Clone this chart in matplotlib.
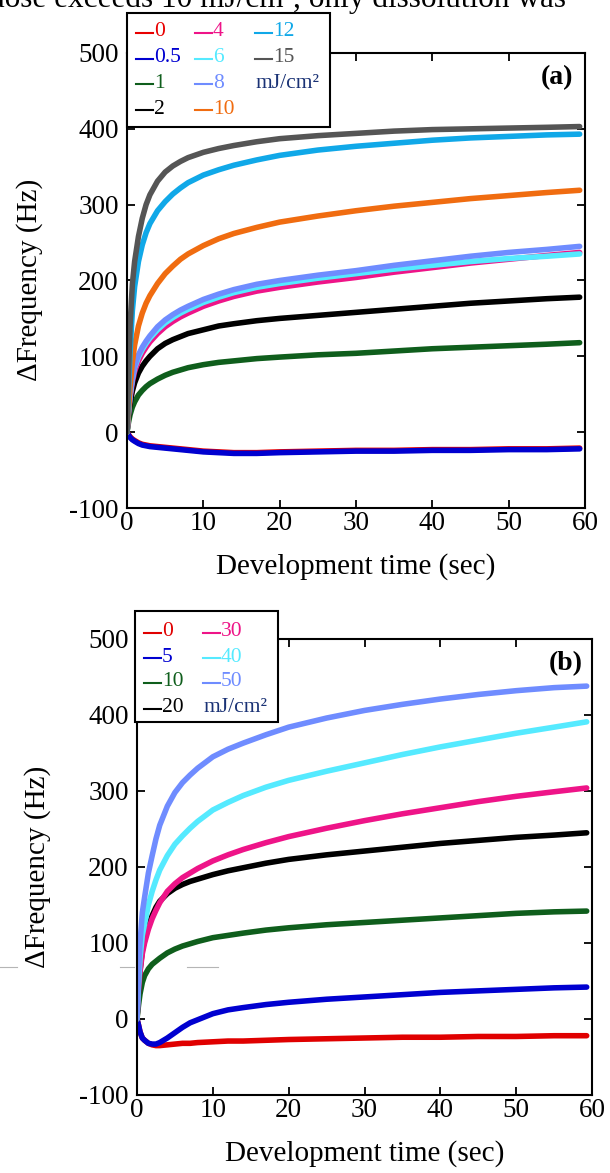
import matplotlib
matplotlib.use("Agg")
import matplotlib.pyplot as plt
from matplotlib.patches import Rectangle
from matplotlib.lines import Line2D

plt.rcParams['font.family'] = ['Liberation Serif', 'DejaVu Serif']
plt.rcParams['axes.unicode_minus'] = False

# ---------------- data ----------------
time_s = [0, 0.2, 0.4, 0.7, 1, 1.5, 2, 2.5, 3, 4, 5, 6, 7, 8, 10, 12, 14, 17, 20,
          25, 30, 35, 40, 45, 50, 55, 59.3]

# (a) exposure dose (mJ/cm2) -> frequency shift (Hz)
a_dose_labels = ["0", "0.5", "1", "2", "4", "6", "8", "10", "12", "15"]
a_0   = [0, -3, -6, -9, -11, -14, -16, -17, -18, -19, -20, -21, -22, -23, -25, -26, -27, -27, -26,
         -25, -24, -24, -23, -23, -22, -22, -21]
a_05  = [0, -4, -7, -10, -12, -15, -17, -18, -19, -20, -21, -22, -23, -24, -26, -27, -28, -28, -27,
         -26, -25, -25, -24, -24, -23, -23, -22]
a_1   = [0, 13, 23, 33, 40, 49, 55, 60, 64, 70, 75, 79, 82, 85, 89, 92, 94, 97, 99,
         102, 104, 107, 110, 112, 114, 116, 118]
a_2   = [0, 22, 38, 54, 65, 78, 87, 94, 100, 110, 117, 122, 126, 130, 135, 140, 143, 147, 150,
         154, 158, 162, 166, 170, 173, 176, 178]
a_4   = [0, 25, 45, 66, 80, 94, 104, 112, 119, 130, 139, 146, 152, 157, 166, 173, 179, 186, 191,
         198, 204, 211, 217, 223, 228, 233, 237]
a_6   = [0, 27, 48, 70, 85, 99, 109, 117, 124, 135, 144, 151, 157, 162, 171, 178, 184, 191, 196,
         203, 209, 215, 220, 225, 229, 232, 235]
a_8   = [0, 28, 50, 72, 87, 102, 112, 120, 127, 139, 148, 155, 161, 166, 175, 182, 188, 195, 200,
         207, 213, 220, 226, 232, 237, 241, 245]
a_10  = [0, 30, 60, 92, 115, 140, 157, 170, 180, 196, 209, 219, 228, 235, 246, 255, 262, 270, 277,
         285, 292, 298, 303, 308, 312, 316, 319]
a_12  = [0, 55, 105, 160, 192, 225, 247, 263, 275, 292, 304, 314, 322, 329, 339, 346, 352, 359, 365,
         372, 377, 381, 385, 388, 390, 392, 393]
a_15  = [0, 80, 140, 195, 225, 258, 282, 300, 313, 331, 343, 351, 357, 362, 369, 374, 378, 383, 387,
         391, 394, 397, 399, 400, 401, 402, 403]
a_colors = ["#e80000", "#0000d0", "#0f5e1c", "#000000", "#ee1488",
            "#55eaff", "#6f8cff", "#f06c10", "#10a8e8", "#555555"]

# (b)
b_dose_labels = ["0", "5", "10", "20", "30", "40", "50"]
b_0   = [0, -8, -17, -25, -28, -32, -34, -35, -35, -34, -33, -32, -32, -31, -30, -29, -29, -28, -27,
         -26, -25, -24, -24, -23, -23, -22, -22]
b_5   = [0, -8, -17, -25, -28, -32, -33, -33, -31, -25, -18, -11, -5, -1, 7, 12, 15, 19, 22,
         26, 29, 32, 35, 37, 39, 41, 42]
b_10  = [0, 18, 33, 48, 57, 66, 72, 76, 80, 87, 92, 96, 99, 102, 107, 110, 113, 117, 120,
         124, 127, 130, 133, 136, 139, 141, 142]
b_20  = [0, 38, 64, 90, 104, 122, 136, 147, 155, 165, 172, 177, 181, 184, 190, 195, 199, 205, 210,
         216, 221, 226, 231, 235, 239, 242, 245]
b_30  = [0, 38, 62, 86, 100, 118, 132, 143, 153, 168, 178, 186, 192, 198, 208, 216, 223, 232, 240,
         251, 261, 270, 278, 286, 293, 299, 304]
b_40  = [0, 45, 80, 110, 125, 150, 168, 183, 196, 215, 230, 241, 251, 260, 275, 285, 294, 305, 314,
         326, 337, 348, 358, 367, 376, 384, 391]
b_50  = [0, 60, 100, 140, 160, 192, 215, 237, 255, 280, 298, 311, 321, 330, 345, 355, 363, 374, 384,
         396, 406, 414, 421, 427, 432, 436, 438]
b_colors = ["#e00000", "#0000d0", "#0f5e1c", "#000000", "#ee1488", "#55eaff", "#6f8cff"]

x_ticks = [0, 10, 20, 30, 40, 50, 60]
y_ticks = [-100, 0, 100, 200, 300, 400, 500]
unit_label = "mJ/cm\u00b2"
unit_color = "#1a3275"

# ---------------- figure ----------------
W, H = 610, 1173
fig = plt.figure(figsize=(W / 100, H / 100), dpi=100)


def fx(px):
    return px / W


def fy(py):
    return 1 - py / H


def make_axes(left, right, top, bottom):
    ax = fig.add_axes([fx(left), fy(bottom), (right - left) / W, (bottom - top) / H])
    ax.set_xlim(0, 60)
    ax.set_ylim(-100, 500)
    ax.set_xticks(x_ticks)
    ax.set_yticks(y_ticks)
    ax.tick_params(direction="in", top=True, right=True, length=6, width=1.3,
                   labelsize=19.5, colors="black")
    ax.tick_params(axis="x", pad=2.5)
    ax.tick_params(axis="y", pad=6)
    for s in ax.spines.values():
        s.set_linewidth(1.5)
    ax.set_xlabel("Development time (sec)", fontsize=21, labelpad=12)
    return ax


def draw_legend(left, right, top, bottom, cols, rows, entries):
    rect = Rectangle((fx(left), fy(bottom)), (right - left) / W, (bottom - top) / H,
                     transform=fig.transFigure, facecolor="white", edgecolor="black",
                     linewidth=1.5, zorder=10)
    fig.add_artist(rect)
    for (ci, ri, text, color, handle) in entries:
        x0 = cols[ci]
        y0 = rows[ri]
        if handle:
            fig.add_artist(Line2D([fx(x0), fx(x0 + 17)], [fy(y0 + 1), fy(y0 + 1)],
                                  transform=fig.transFigure, color=color, lw=1.5, zorder=11))
            x0 += 18
        fig.text(fx(x0), fy(y0), text, color=color, fontsize=15.5,
                 ha="left", va="center", zorder=11)


def build_entries(labels, colors, unit_pos):
    entries = []
    for i, (lab, col) in enumerate(zip(labels, colors)):
        entries.append((i // 4, i % 4, lab, col, True))
    entries.append((unit_pos[0], unit_pos[1], unit_label, unit_color, False))
    return entries


# ---- panel (a) ----
ax_a = make_axes(127, 585, 53, 508)
a_series = [a_0, a_05, a_1, a_2, a_4, a_6, a_8, a_10, a_12, a_15]
for vals, col in zip(a_series, a_colors):
    ax_a.plot(time_s, vals, color=col, lw=4.0, solid_capstyle="round", solid_joinstyle="round")
ax_a.text(0.975, 0.947, "(a)", transform=ax_a.transAxes, ha="right", va="center",
          fontsize=20, fontweight="bold")
fig.text(fx(30), fy(280), "\u0394Frequency (Hz)", rotation=90, ha="center", va="center",
         fontsize=21)
draw_legend(127, 330, 13, 127, [136, 195, 255], [32, 58, 83, 109],
            build_entries(a_dose_labels, a_colors, (2, 2)))

# ---- panel (b) ----
ax_b = make_axes(137, 592, 639, 1095)
b_series = [b_0, b_5, b_10, b_20, b_30, b_40, b_50]
for vals, col in zip(b_series, b_colors):
    ax_b.plot(time_s, vals, color=col, lw=4.0, solid_capstyle="round", solid_joinstyle="round")
ax_b.text(0.98, 0.945, "(b)", transform=ax_b.transAxes, ha="right", va="center",
          fontsize=20, fontweight="bold")
fig.text(fx(38), fy(867), "\u0394Frequency (Hz)", rotation=90, ha="center", va="center",
         fontsize=21)
draw_legend(135, 278, 611, 722, [144, 203], [632, 657, 682, 708],
            build_entries(b_dose_labels, b_colors, (1, 3)))

# faint rule running across the page behind panel (b)
for x0, x1 in [(0, 17), (120, 134), (187, 218)]:
    fig.add_artist(Line2D([fx(x0), fx(x1)], [fy(967), fy(967)], transform=fig.transFigure,
                          color="#b5b5b5", lw=0.8, zorder=1))

# running text line from the page above the figure
fig.text(fx(-11), fy(7), "dose exceeds 10 mJ/cm\u00b2, only dissolution was", fontsize=22.5,
         ha="left", va="baseline")

fig.savefig("out.png", dpi=100, facecolor="white")
